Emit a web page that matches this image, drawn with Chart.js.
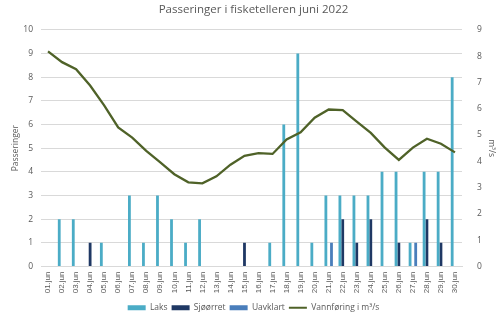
<!DOCTYPE html>
<html>
<head>
<meta charset="utf-8">
<script src="https://cdn.jsdelivr.net/npm/chart.js@4"></script>
<style>
  html, body { margin: 0; padding: 0; background: #fff; }
  #wrap { width: 500px; height: 322px; }
</style>
</head>
<body>
<div id="wrap"><canvas id="chart" width="500" height="322"></canvas></div>
<script>
// Dager i juni
const days = ['01.jun', '02.jun', '03.jun', '04.jun', '05.jun', '06.jun', '07.jun', '08.jun', '09.jun', '10.jun',
              '11.jun', '12.jun', '13.jun', '14.jun', '15.jun', '16.jun', '17.jun', '18.jun', '19.jun', '20.jun',
              '21.jun', '22.jun', '23.jun', '24.jun', '25.jun', '26.jun', '27.jun', '28.jun', '29.jun', '30.jun'];

// Passeringer per art
const laks      = [0, 2, 2, 0, 1, 0, 3, 1, 3, 2, 1, 2, 0, 0, 0, 0, 1, 6, 9, 1, 3, 3, 3, 3, 4, 4, 1, 4, 4, 8];
const sjoorret  = [0, 0, 0, 1, 0, 0, 0, 0, 0, 0, 0, 0, 0, 0, 1, 0, 0, 0, 0, 0, 0, 2, 1, 2, 0, 1, 0, 2, 1, 0];
const uavklart  = [0, 0, 0, 0, 0, 0, 0, 0, 0, 0, 0, 0, 0, 0, 0, 0, 0, 0, 0, 0, 1, 0, 0, 0, 0, 0, 1, 0, 0, 0];

// Vannføring (m³/s)
const vannforing = [8.18, 7.77, 7.50, 6.88, 6.13, 5.29, 4.90, 4.40, 3.96, 3.51,
                    3.20, 3.16, 3.43, 3.87, 4.21, 4.31, 4.28, 4.83, 5.10, 5.66,
                    5.97, 5.95, 5.51, 5.08, 4.52, 4.05, 4.52, 4.86, 4.67, 4.34];

const textColor = '#595959';
const gridColor = '#d9d9d9';
const fontFamily = "'Open Sans', 'Liberation Sans', sans-serif";
const narrowFont = "'Liberation Sans', sans-serif";

document.addEventListener('DOMContentLoaded', function() {
    const ctx = document.getElementById('chart');
    new Chart(ctx, {
        data: {
            labels: days,
            datasets: [{
                type: 'line',
                label: 'Vannføring i m³/s',
                data: vannforing,
                yAxisID: 'y2',
                borderColor: '#4f6228',
                backgroundColor: '#4f6228',
                borderWidth: 2.3,
                pointRadius: 0,
                tension: 0,
                order: 0
            }, {
                type: 'bar',
                label: 'Laks',
                data: laks,
                yAxisID: 'y',
                backgroundColor: '#4bacc6',
                categoryPercentage: 0.6,
                barPercentage: 1,
                order: 1
            }, {
                type: 'bar',
                label: 'Sjøørret',
                data: sjoorret,
                yAxisID: 'y',
                backgroundColor: '#1f3864',
                categoryPercentage: 0.6,
                barPercentage: 1,
                order: 1
            }, {
                type: 'bar',
                label: 'Uavklart',
                data: uavklart,
                yAxisID: 'y',
                backgroundColor: '#4a7ebb',
                categoryPercentage: 0.6,
                barPercentage: 1,
                order: 1
            }]
        },
        options: {
            responsive: false,
            animation: false,
            layout: { padding: { left: 10, right: 3, top: 0, bottom: 0 } },
            plugins: {
                title: {
                    display: true,
                    text: 'Passeringer i fisketelleren juni 2022',
                    color: textColor,
                    font: { family: fontFamily, size: 11.5, weight: 'normal' },
                    padding: { top: 3, bottom: 13 }
                },
                legend: {
                    position: 'bottom',
                    labels: {
                        color: textColor,
                        font: { family: fontFamily, size: 8.5 },
                        usePointStyle: true,
                        pointStyleWidth: 18,
                        boxHeight: 5,
                        padding: 4,
                        generateLabels: function(chart) {
                            const order = [1, 2, 3, 0];
                            return order.map(i => {
                                const ds = chart.data.datasets[i];
                                return {
                                    text: ds.label,
                                    fillStyle: ds.backgroundColor,
                                    strokeStyle: ds.type === 'line' ? ds.borderColor : ds.backgroundColor,
                                    lineWidth: ds.type === 'line' ? 2 : 0,
                                    pointStyle: ds.type === 'line' ? 'line' : 'rect',
                                    fontColor: textColor,
                                    datasetIndex: i,
                                    hidden: false
                                };
                            });
                        }
                    }
                },
                tooltip: { enabled: false }
            },
            scales: {
                x: {
                    grid: { display: false, drawTicks: false },
                    border: { color: gridColor },
                    ticks: {
                        color: textColor,
                        font: { family: narrowFont, size: 8 },
                        maxRotation: 90,
                        minRotation: 90,
                        autoSkip: false,
                        padding: 5
                    },
                    afterFit: function(scale) { scale.height = 33; }
                },
                y: {
                    position: 'left',
                    min: 0,
                    max: 10,
                    ticks: {
                        stepSize: 1,
                        color: textColor,
                        font: { family: fontFamily, size: 8.5 },
                        padding: 8
                    },
                    grid: { color: gridColor, drawTicks: false },
                    border: { display: false },
                    title: {
                        display: true,
                        text: 'Passeringer',
                        color: textColor,
                        font: { family: fontFamily, size: 8.5 },
                        padding: { top: 0, bottom: 0 }
                    },
                    afterFit: function(scale) { scale.width = 31; }
                },
                y2: {
                    position: 'right',
                    min: 0,
                    max: 9,
                    ticks: {
                        stepSize: 1,
                        color: textColor,
                        font: { family: fontFamily, size: 8.5 },
                        padding: 15
                    },
                    grid: { display: false, drawTicks: false },
                    border: { display: false },
                    title: {
                        display: true,
                        text: 'm³/s',
                        color: textColor,
                        font: { family: fontFamily, size: 8.5 },
                        padding: { top: 0, bottom: 4 }
                    },
                    afterFit: function(scale) { scale.width = 35; }
                }
            }
        }
    });
});
</script>
</body>
</html>
